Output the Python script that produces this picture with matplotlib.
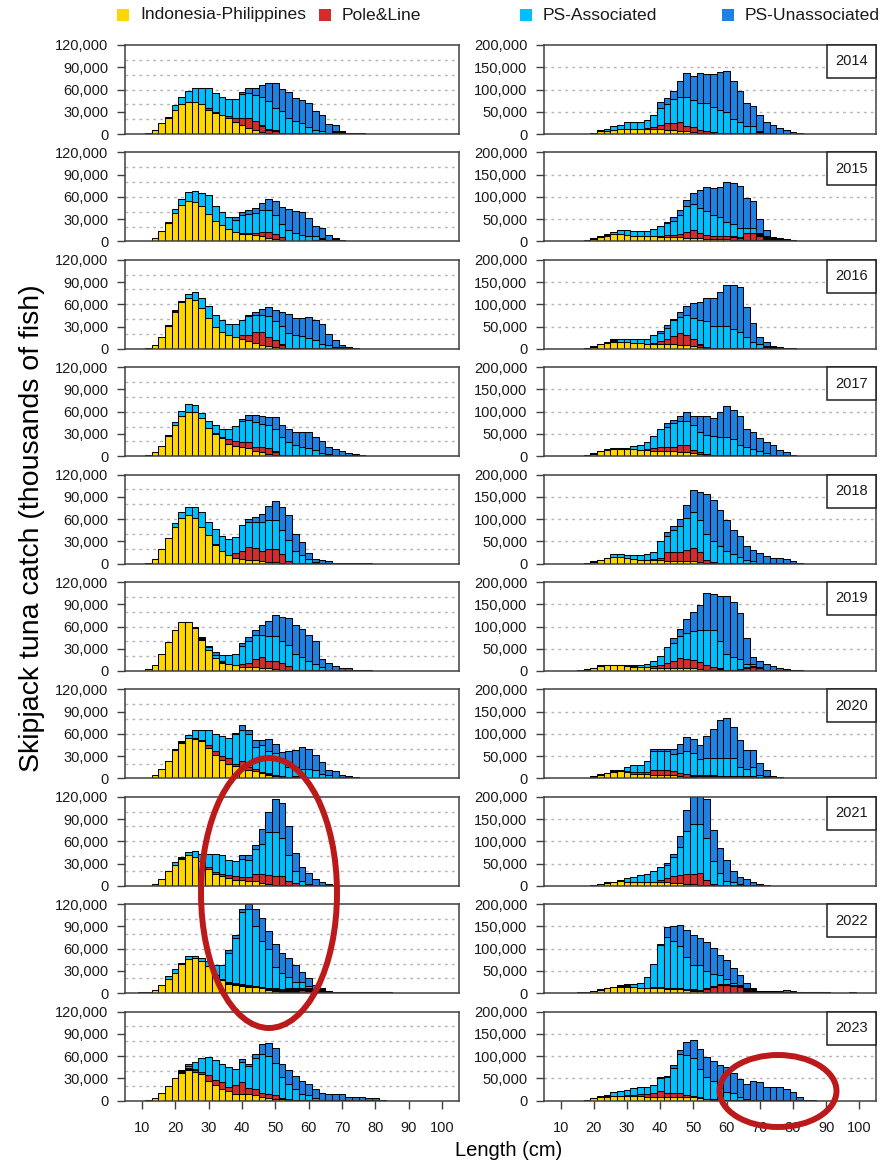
import numpy as np
import matplotlib
matplotlib.use("Agg")
import matplotlib.pyplot as plt
from matplotlib.patches import Rectangle, Ellipse
from matplotlib.ticker import FuncFormatter

plt.rcParams["font.family"] = ["Liberation Sans", "DejaVu Sans"]

# length bins (cm), bar centres every 2 cm
lengths = np.arange(10, 102, 2)
years = [2014, 2015, 2016, 2017, 2018, 2019, 2020, 2021, 2022, 2023]
fleets = ["Indonesia-Philippines", "Pole&Line", "PS-Associated", "PS-Unassociated"]

# catch in thousands of fish, lists start at 10 cm
indo_left = {
    2014: [0] * 2 + [5, 15, 21, 32, 40, 43, 43, 40, 32, 28, 25, 21, 16, 12, 8, 6, 3, 2],
    2015: [0] * 2 + [5, 14, 25, 38, 49, 55, 53, 48, 37, 28, 21.5, 17, 13, 10.5, 9.5, 8, 7, 4.5, 3.5, 2],
    2016: [0] * 2 + [4.5, 15.5, 31, 50, 63, 69, 66, 55, 41.5, 29.5, 22, 18, 15.5, 13.5, 10, 7.5, 5.5, 3.5, 2, 1],
    2017: [0] * 2 + [5, 14, 27, 41.5, 54, 59.5, 59.5, 51, 38, 29.5, 24, 16.5, 14, 12, 10.5, 7.5, 5, 3.5, 2, 1],
    2018: [0] * 2 + [6.7, 19.7, 34.5, 49, 61.5, 65, 61.5, 50, 38, 25.5, 17.5, 12, 8, 6.5, 5.5, 4.5, 3.5, 2.5, 1.5, 1],
    2019: [0] * 1 + [3, 8.4, 23, 39, 55, 66, 66, 58, 42, 28, 17, 11, 9.7, 8.4, 6, 5, 5, 4.4, 3.5, 2.5, 2, 1],
    2020: [0] * 2 + [4.4, 13, 24, 38, 47.5, 54, 53, 50, 41, 32, 25, 20, 17, 13, 12, 10, 7.5, 5, 3, 2, 1.5, 1],
    2021: [0] * 2 + [2.7, 9.5, 19.5, 27.5, 36.5, 41, 39, 33, 23, 16, 12.7, 10.5, 8, 8, 7, 6, 3.6, 2.5, 1.5, 1, 0.5],
    2022: [0] * 2 + [4.4, 11, 18.5, 27.5, 39, 46, 47, 43.5, 36.5, 24, 17.8, 13, 11, 10, 9, 8, 6.7, 4.5, 3.5, 2, 1.5, 1, 0.5],
    2023: [0] * 2 + [3.5, 10, 19.5, 30.5, 37, 41, 39, 36, 26.5, 21, 16, 12.4, 9.3, 9.3, 9, 7, 5, 4, 2.5, 1.5, 0.5],
}
pole_left = {
    2014: [0] * 10 + [2.5, 0, 0, 3, 5, 9, 13, 11, 8, 4, 4],
    2015: [0] * 15 + [0.5, 2.5, 3.5, 6, 8.5, 6, 4, 0, 0, 0, 0, 1, 3],
    2016: [0] * 15 + [4.5, 9, 15.5, 17.5, 12.5, 10.5, 4],
    2017: [0] * 13 + [6.5, 6, 6.5, 8, 4.5, 7, 7.5, 4],
    2018: [0] * 14 + [6.5, 11, 17.5, 16.5, 14, 17.5, 18.5, 12, 3],
    2019: [0] * 15 + [4, 6, 11, 14, 10.5, 11.5, 8.5, 5.6],
    2020: [0] * 8 + [2, 2, 4.5, 5, 5, 7, 3, 10, 4, 3, 1, 1, 1, 0, 0, 1.5],
    2021: [0] * 9 + [1, 3, 2.5, 3.3, 3.5, 4.7, 4.5, 5, 10, 12.4, 12.5, 12, 11.7, 6.3, 3.6],
    2022: [0] * 13 + [1, 1, 0.5, 0, 0, 0, 0, 0.5, 1, 2, 2.5, 3.5, 3.5, 1.5],
    2023: [0] * 7 + [2, 2.5, 2, 8.5, 7, 9, 5.6, 11.7, 15.7, 8, 8, 5.6, 5.3, 5.5, 2],
}
other_left = {
    2014: [0, 1, 0, 0, 2, 0, 0, 0, 0, 0, 0, 1, 1, 0, 0, 0, 0, 0, 1, 1, 1, 1, 1, 1, 1, 1, 1, 2, 2, 3.5, 4.5, 2, 1.5, 1],
    2015: [0, 1, 0, 0, 1.5] + [0] * 17 + [1, 1, 1, 1, 1, 1, 2, 5, 2, 1, 1, 0.5],
    2016: [0, 1, 0, 0, 1, 2, 2] + [0] * 6 + [1] + [0] * 7 + [1] * 8 + [2, 2, 2, 1],
    2017: [0, 1, 0, 0, 1.5] + [0] * 6 + [1.5, 2] + [0] * 7 + [1] * 13 + [1.3, 0.5],
    2018: [0, 1] + [0] * 9 + [1.5] + [0] * 9 + [0.5] + [1] * 9 + [0.5] * 4,
    2019: [0.5] + [0] * 7 + [1, 4] + [0] * 2 + [3] + [0] * 9 + [0.5] + [1] * 9 + [2, 1, 1],
    2020: [0, 1] + [0] * 3 + [1, 2.5] + [0] * 12 + [1] * 11 + [1.5, 3, 1.5],
    2021: [0] * 4 + [1, 0, 2.5] + [0] * 16 + [0.5, 1, 1, 1, 1, 1, 1.3],
    2022: [1, 1] + [0] * 4 + [2] + [0] * 4
          + [1, 1, 1.5, 1.5, 1.5, 1.5, 1.5, 2, 2, 2.5, 3, 3, 3, 3, 3, 3, 6.7, 3.6, 2] + [1] * 8,
    2023: [0, 1.3] + [0] * 4 + [4.5, 1, 1] + [0] * 12 + [0.5, 1.5] + [1] * 13 + [1.3],
}
psa_left = {
    2014: [0] * 5 + [7, 10, 15, 19, 22, 27.5, 26, 24, 23.5, 26.5, 33.5, 34.5, 36, 38, 37, 30, 29.5, 20.5, 17, 14, 9, 5, 2],
    2015: [0] * 5 + [5.5, 8, 12, 15, 17, 25, 20, 18.5, 15.5, 16.5, 25, 25, 26.5, 30, 30, 25.5, 17, 14, 10, 8, 6, 5, 0.5],
    2016: [0] * 7 + [5, 10, 13.5, 16.5, 16.5, 17.5, 15, 18.5, 20.5, 25, 23, 23, 28, 24.5, 24.5, 20.5, 17, 16, 14, 10.5, 6, 3.5],
    2017: [0] * 5 + [4.5, 7, 11, 9.5, 7, 9, 10.5, 10, 14, 20.5, 28.5, 30.5, 34, 32, 30.5, 29, 24.5, 17.5, 14, 11, 9.5, 7.5, 3.5, 2.5],
    2018: [0] * 5 + [6, 7.5, 11, 14.5, 19, 17.5, 19, 20, 21, 21, 35, 33, 35, 38.5, 39, 39, 32, 28, 15.5, 10, 5.7, 1],
    2019: [0] * 10 + [4.5, 5, 7, 11.3, 14.6, 24, 29.5, 32.5, 30, 33, 33, 30, 28, 22, 17.5, 13, 8, 4],
    2020: [0] * 7 + [4.5, 10, 13, 19.5, 23, 27, 28, 40, 42, 44, 30, 37, 30.5, 29, 20, 13.5, 11.5, 12, 12, 11, 5.5, 3],
    2021: [0] * 5 + [4.5, 0, 4, 7.5, 9, 17, 24.5, 25, 21, 21.3, 24, 23, 33, 41, 57.5, 59, 52.3, 35.2, 15.4, 5, 1],
    2022: [0] * 4 + [4.5, 4.5, 0, 4, 3, 4.5, 7.5, 13.5, 19, 38.5, 61.5, 98, 102.5, 80.5, 62.3, 53.5, 29, 21, 15.5, 8.5, 7.5, 3.5, 1.5],
    2023: [0] * 7 + [3, 9.5, 19, 24, 27, 25, 27, 21.5, 27, 30, 42, 52.4, 50.7, 43, 28, 20.6, 14, 8.3, 6, 2],
}
psu_left = {
    2014: [0] * 15 + [2, 6, 9, 16, 25, 34, 29.5, 34.5, 31, 31, 32, 25, 21, 12, 9],
    2015: [0] * 14 + [3, 4, 6, 7, 9, 14, 19, 24, 29, 30, 30, 24, 14, 13, 6],
    2016: [0] * 16 + [1, 3, 8, 12, 15, 18.5, 25.5, 23, 24, 27.5, 28, 27, 16, 10.5, 2.5],
    2017: [0] * 15 + [3, 6, 10, 10, 11, 16.5, 15, 17.5, 18, 20, 21.5, 18, 16.5, 9.5, 9, 5.5, 3.5, 2],
    2018: [0] * 16 + [4, 7.5, 11, 18, 25, 30.5, 33, 23.5, 18, 7.8, 4.7, 3.5, 2],
    2019: [0] * 10 + [1.5, 3, 0, 0, 0, 3.5, 5.5, 6.5, 14, 21, 28, 32.5, 36.5, 39.5, 37.5, 35, 31.5, 11, 9.5, 5.6, 3.4, 2.5],
    2020: [0] * 14 + [1, 7, 5, 9, 6.5, 15.5, 12, 12.5, 21.5, 23.5, 29, 27, 19, 15.5, 8, 9.5, 3.5],
    2021: [0] * 15 + [4.5, 6, 6, 19, 27.5, 44.5, 46, 38, 24.5, 20, 15, 8.5, 3.5, 1.7],
    2022: [0] * 13 + [4, 4, 3, 7, 23, 31, 24, 30.5, 27.6, 26, 23, 13.5, 10, 5],
    2023: [0] * 7 + [1.7] + [0] * 7 + [4, 3, 5.5, 13, 17, 20, 18, 19, 18, 17.7, 15.6, 12, 9, 7.4, 7.4, 7.4, 4, 3.4, 3.4, 2.5, 2.5],
}

indo_right = {
    2014: [0] * 5 + [1.5, 6, 7.5, 9.7, 11, 11, 11, 11, 11, 11, 11, 9.7, 8, 7.5, 6, 4, 3, 2, 1],
    2015: [0] * 5 + [6, 11, 12.5, 16, 16, 14.7, 12.5, 12.5, 11.8, 11.8, 11, 10.3, 10, 8.8, 7.5, 7.5, 7, 6, 5, 5, 5, 4, 4, 4, 4, 3],
    2016: [0] * 5 + [5, 10, 14, 16, 16, 15, 14, 12.7, 11, 9.7, 9.7, 9.7, 9.7, 8, 7.5, 6, 4.5, 2],
    2017: [0] * 5 + [6, 11.5, 15, 17, 17, 17, 16, 15, 14, 12.5, 12.5, 12.5, 11, 10.3, 8.8, 6.6, 4, 2],
    2018: [0] * 5 + [4, 8, 11.5, 14, 14, 12.7, 11, 9, 7.5, 7, 7, 5.5, 5.5, 5.5, 5.5, 5.5, 4, 2, 1],
    2019: [0] * 4 + [2, 6, 11, 12.5, 12.5, 12.5, 11, 10, 8.8, 8.8, 7.5, 7.5, 7.5, 7.5, 7.5, 7.5, 7.5, 5, 3, 2],
    2020: [0] * 5 + [4, 8, 11.5, 15, 16.8, 13.5, 11, 9.5, 9, 7.4, 7.4, 7.4, 6.7, 5, 3.7, 2.5, 2, 1.5, 1],
    2021: [0] * 5 + [0.5, 4, 7, 9, 9.8, 7.5, 7.5, 7.5, 7.5, 7.5, 7.5, 7.5, 6, 6, 4.5, 3, 2, 1],
    2022: [0] * 5 + [4, 8, 11.5, 14, 14.8, 13, 13, 11, 11, 11, 11, 9, 9, 9, 7.5, 6, 4, 2.5, 1.5, 1],
    2023: [0] * 5 + [5, 7.4, 9, 9.6, 9.6, 9.6, 9.6, 9.6, 9, 9, 9, 9, 9, 9, 7.4, 7.4, 5, 3, 1.5],
}
pole_right = {
    2014: [0] * 13 + [2, 5, 10, 15, 17, 18.5, 13, 11, 6.7, 4, 1, 0, 0, 0, 0, 0, 0, 3, 0, 2],
    2015: [0] * 15 + [2, 3, 4, 7, 14.5, 18, 13, 8, 7.5, 7.5, 7.5, 5, 4, 15, 14, 10],
    2016: [0] * 15 + [7, 12, 18, 28, 24.5, 16, 5, 0, 0, 0, 0, 0, 0, 0, 0, 0, 3],
    2017: [0] * 13 + [2.5, 5.5, 7.5, 8.5, 10, 14.7, 16, 8, 4.8],
    2018: [0] * 14 + [3.5, 5.7, 20.5, 20.5, 20.5, 25.5, 29.5, 22, 7],
    2019: [0] * 14 + [3, 6.5, 10, 16, 21, 19.5, 18, 15, 9.5, 6, 0, 0, 0, 3, 6, 10, 6],
    2020: [0] * 10 + [3, 4, 4, 6, 10.6, 12.6, 12.6, 11, 7.6, 5.3, 2, 4, 4.5, 4.5, 4.5, 4.5, 4.5, 4.5, 4.5, 4.5, 2.5, 2.5],
    2021: [0] * 15 + [6, 9.5, 15, 19, 22, 23, 26.5, 12.6, 2.5],
    2022: [0] * 21 + [2, 7, 13, 17.5, 18, 16, 14],
    2023: [0] * 9 + [1.5, 3, 4, 5.2, 5.5, 7.3, 13, 8, 8, 7, 6, 4, 3],
}
other_right = {
    2014: [0] * 5 + [0.5, 2] + [0] * 16 + [2] * 8 + [2, 1, 1, 1, 1, 2],
    2015: [0] * 3 + [1.5, 3, 1, 1.5, 2] + [0] * 18 + [3, 3, 1, 2, 5, 12.5, 11, 7, 5, 3, 2, 1.5],
    2016: [0] * 4 + [2, 1, 1, 1, 5] + [0] * 5 + [3] + [0] * 6 + [1, 3, 2, 2, 2, 2, 2, 2, 2, 2, 2, 6, 4.5, 2, 1.5],
    2017: [0] * 4 + [3, 1, 1, 1, 1, 1, 1] + [0] * 11 + [2] * 13 + [3.7, 1.5],
    2018: [0] * 4 + [1.5, 1, 1, 1] + [0] * 15 + [2] * 14,
    2019: [0] * 3 + [1.5, 1.7, 1, 1.5, 1.5, 1.5, 1.5, 1.5, 2.5] + [0] * 11 + [1, 7, 2, 2, 2, 2, 2, 2, 2, 2, 2, 4.4, 3, 1.5],
    2020: [0] * 4 + [1.5, 1, 1, 1.1, 3.5, 3.2] + [0] * 10 + [3, 1, 1, 1.2, 1.2, 1.2, 1.2, 1.2, 1.2, 1.2, 1, 1, 1, 3, 1.5],
    2021: [0] * 5 + [0.5, 0.5, 0.5] + [0] * 15 + [1, 1, 1, 1, 3.8, 1, 1, 1, 2],
    2022: [0] * 2 + [1.5, 2, 2, 1, 1, 1, 0.8, 3.7, 7] + [0] * 3
          + [2, 3.5, 3, 3, 3, 3, 3, 2, 1.5, 1.8, 1.5, 2, 2.5, 2.3, 11, 9, 6, 5, 5, 5, 3, 2.5, 2, 2, 2, 2, 2]
          + [0] * 3 + [3.7],
    2023: [0] * 4 + [1.5, 1, 3.6, 1] + [0] * 14 + [1.5, 1.5, 1.5, 1.5, 1.5, 2, 2, 2, 2, 2, 2, 2, 2, 2, 2, 2, 1.5],
}
psa_right = {
    2014: [0] * 7 + [4.5, 7.3, 10, 15, 16, 16, 19, 27, 37, 42, 53, 58, 65, 62, 59.3, 63, 56, 52.5, 47, 32, 25, 15, 15, 2],
    2015: [0] * 7 + [3, 5, 10, 10.3, 11, 11, 11.7, 15.2, 21.5, 28.7, 31.6, 44, 56.6, 58.3, 55, 55, 47.5, 41.5, 31.5, 26, 20, 9, 9],
    2016: [0] * 9 + [6.4, 7.4, 8.4, 9.7, 11.4, 17.3, 19, 25, 36, 36, 43, 47, 53.5, 58, 50, 50, 50, 43, 35, 25, 13, 7.7, 1],
    2017: [0] * 11 + [6, 10, 15.5, 27.6, 40, 44, 52.5, 53.6, 53.8, 56.3, 45.2, 44, 43.6, 42, 42, 36, 23.7, 18, 14, 10.5, 5],
    2018: [0] * 8 + [7.7, 7.7, 7.3, 9, 11, 14.2, 15.5, 37.3, 35, 50, 58, 71.6, 80, 73, 57.7, 48.7, 37, 27, 19.7, 12, 7, 4],
    2019: [0] * 12 + [3.7, 7.2, 11.5, 20.5, 35.4, 39, 50, 59, 64, 72, 79.5, 83, 60.6, 36, 29, 22, 7, 4],
    2020: [0] * 10 + [8.5, 14, 17.5, 23.5, 44, 42, 40.7, 37.3, 45.4, 51.7, 49.5, 37.5, 39, 39.3, 40, 40, 40, 20.5, 15, 20.5, 5, 2],
    2021: [0] * 9 + [3.8, 9.5, 12.1, 15.9, 18.9, 26.5, 28, 30.5, 43, 61.8, 96.6, 114, 111.5, 94.4, 53, 27.7, 10, 6.5],
    2022: [0] * 11 + [7, 13, 26, 53.7, 94.5, 115, 105, 93, 71, 54, 54.7, 39, 26.7, 20.8, 11, 5.5, 2],
    2023: [0] * 7 + [3, 8.9, 9.6, 11.9, 13.8, 14.8, 16.5, 18.7, 28, 35, 57, 87.7, 88.6, 84.6, 62, 49.5, 41.5, 25.9, 17, 14.5, 5, 2],
}
psu_right = {
    2014: [0] * 15 + [13, 15, 19, 34, 52.5, 53, 67.5, 65, 74, 85.5, 93.5, 84, 70, 52, 47, 36, 25, 18, 12, 8.7, 3.5],
    2015: [0] * 16 + [2, 8.4, 11, 13.4, 25.5, 40, 54, 60, 69, 90, 94, 94, 69, 61, 32, 13.2],
    2016: [0] * 15 + [4, 6, 3, 10, 21, 34, 41, 51, 62, 75, 92, 99, 102, 66, 43, 16.3, 9.5],
    2017: [0] * 16 + [8.5, 8.5, 12.4, 20.4, 20, 36, 42, 40.4, 56, 68, 65, 64.3, 40, 39, 29.5, 24, 23, 12.7, 6.8],
    2018: [0] * 16 + [9, 9, 17, 28.4, 50, 62, 90.3, 92.3, 82, 70, 54.3, 49, 30, 25, 22, 14.5, 10.7, 10.7, 9, 3],
    2019: [0] * 17 + [12.5, 17, 31, 44, 56.5, 84, 81.5, 101.4, 131, 125, 103, 60, 15, 15.5, 14, 9.8, 5],
    2020: [0] * 14 + [4.7, 4.7, 6, 11, 19, 32, 32, 31, 50, 65, 85, 91, 70, 59.3, 42.5, 37, 26, 12.3, 4],
    2021: [0] * 16 + [3, 8.5, 25, 47, 66, 68, 88, 68, 55.3, 48, 26.5, 15.2, 14, 7.3, 2.8],
    2022: [0] * 15 + [2, 21, 33, 48, 60.5, 67, 61.3, 64.6, 58.5, 45.9, 44.6, 31.6, 22.2, 13, 3, 0, 0, 0, 0, 4.4, 3.5, 1.7],
    2023: [0] * 15 + [3, 3.6, 6, 9.3, 29, 41, 46, 44.5, 44.5, 51.6, 57.1, 45.5, 42.6, 33, 42.5, 38.8, 29, 29, 29, 24, 18, 5.4],
}

# stack order: Indonesia-Philippines, Pole&Line, other (black), PS-Associated, PS-Unassociated
colors = ["#FFD700", "#D42B2B", "#000000", "#00BFFF", "#1F82E2"]

W, H = 881, 1163
fig = plt.figure(figsize=(W / 100, H / 100), dpi=100)


def px_axes(x0, y0, w, h):
    return fig.add_axes([x0 / W, 1 - (y0 + h) / H, w / W, h / H])


def pad(vals):
    a = np.zeros(len(lengths))
    a[:len(vals)] = vals
    return a * 1000


def draw_panel(ax, series, ymax, ticks, grid, bottom_row):
    base = np.zeros(len(lengths))
    for vals, c in zip(series, colors):
        v = pad(vals)
        m = v > 0
        ax.bar(lengths[m], v[m], width=2, bottom=base[m], color=c,
               edgecolor="black", linewidth=0.75, zorder=2)
        base += v
    ax.set_xlim(5, 105)
    ax.set_ylim(0, ymax)
    for g in grid:
        ax.axhline(g, color="#b5b5b5", lw=1.0, ls=(0, (2, 3)), zorder=1)
    ax.set_yticks(ticks)
    ax.yaxis.set_major_formatter(FuncFormatter(lambda v, p: f"{int(v):,}"))
    ax.tick_params(axis="y", length=6, width=1, color="#404040",
                   labelsize=10.5, pad=6, labelcolor="#1a1a1a")
    if bottom_row:
        ax.set_xticks(range(10, 101, 10))
        ax.tick_params(axis="x", length=6, width=1, color="#404040",
                       labelsize=10.5, pad=9, labelcolor="#1a1a1a")
    else:
        ax.set_xticks([])
    for s in ax.spines.values():
        s.set_color("#404040")
        s.set_linewidth(1.1)


for i, year in enumerate(years):
    top = 45 + i * 107.4
    last = i == len(years) - 1

    axl = px_axes(125, top, 334, 89)
    draw_panel(axl, [indo_left[year], pole_left[year], other_left[year],
                     psa_left[year], psu_left[year]],
               120000, range(0, 120001, 30000), range(20000, 100001, 20000), last)

    axr = px_axes(544, top, 332, 89)
    draw_panel(axr, [indo_right[year], pole_right[year], other_right[year],
                     psa_right[year], psu_right[year]],
               200000, range(0, 200001, 50000), range(50000, 150001, 50000), last)
    axr.add_patch(Rectangle((1 - 0.148, 1 - 0.37), 0.148, 0.37, transform=axr.transAxes,
                            facecolor="white", edgecolor="#202020", lw=1.1,
                            zorder=5, clip_on=False))
    axr.text(1 - 0.074, 1 - 0.185, str(year), transform=axr.transAxes,
             ha="center", va="center", fontsize=10.5, color="#1a1a1a", zorder=6)

# legend along the top
for k, (name, c) in enumerate(zip(fleets, [colors[0], colors[1], colors[3], colors[4]])):
    x = 117 + k * 201.5
    fig.add_artist(Rectangle((x / W, 1 - 21 / H), 12 / W, 12 / H,
                             transform=fig.transFigure, facecolor=c, edgecolor="none"))
    fig.text((x + 23) / W, 1 - 15 / H, name, ha="left", va="center",
             fontsize=12.6, color="#1a1a1a")

fig.text(32 / W, 1 - 528 / H, "Skipjack tuna catch (thousands of fish)",
         rotation=90, ha="center", va="center", fontsize=20.5)
fig.text(509 / W, 1 - 1150 / H, "Length (cm)", ha="center", va="center", fontsize=14.5)

# red highlight ellipses
fig.add_artist(Ellipse((269 / W, 1 - 893 / H), 136 / W, 270 / H, transform=fig.transFigure,
                       fill=False, edgecolor="#BC1A1A", lw=4.3))
fig.add_artist(Ellipse((778 / W, 1 - 1091 / H), 117 / W, 72 / H, transform=fig.transFigure,
                       fill=False, edgecolor="#BC1A1A", lw=4.3))

fig.savefig("out.png", dpi=100)
